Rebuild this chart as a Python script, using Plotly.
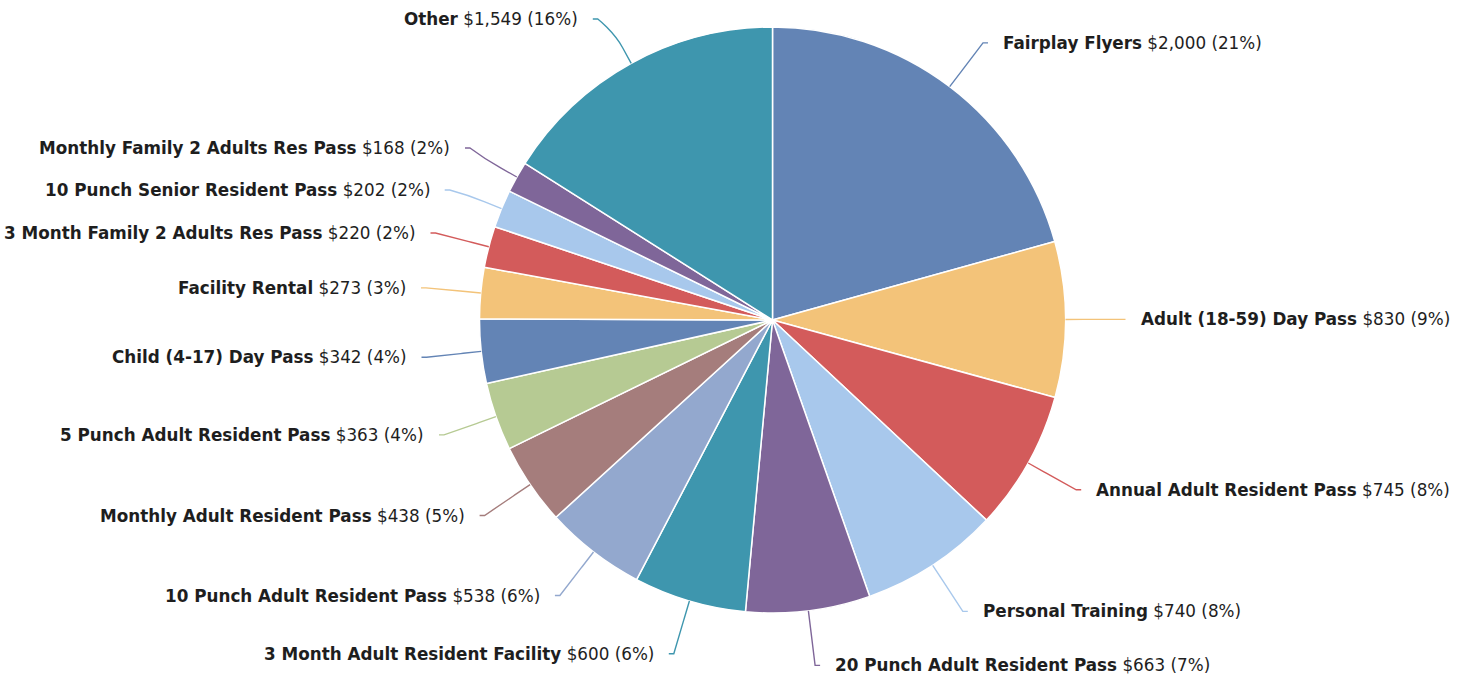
import math
import plotly.graph_objects as go

# ---- data ----
categories = [
    "Fairplay Flyers", "Adult (18-59) Day Pass", "Annual Adult Resident Pass",
    "Personal Training", "20 Punch Adult Resident Pass", "3 Month Adult Resident Facility",
    "10 Punch Adult Resident Pass", "Monthly Adult Resident Pass", "5 Punch Adult Resident Pass",
    "Child (4-17) Day Pass", "Facility Rental", "3 Month Family 2 Adults Res Pass",
    "10 Punch Senior Resident Pass", "Monthly Family 2 Adults Res Pass", "Other",
]
values = [2000, 830, 745, 740, 663, 600, 538, 438, 363, 342, 273, 220, 202, 168, 1549]
palette = ["#6384B5", "#F3C379", "#D35B5B", "#A8C8EC", "#7F6699",
           "#3E96AE", "#93A8CE", "#A57D7C", "#B6CA93"]

# ---- layout geometry (pixels) ----
W, H = 1472, 677
cx, cy, r = 772.5, 320.0, 293.0
label_r = 348.0
conn_off = 18.0
text_gap = 18.0
min_gap = 42.0
top_limit = 19.0

colors = [palette[i % len(palette)] for i in range(len(values))]
total = sum(values)

# label geometry from slice angles
items = []
cum = 0.0
for i, v in enumerate(values):
    mid = (cum + v / 2) / total * 2 * math.pi
    cum += v
    s, c = math.sin(mid), math.cos(mid)
    items.append(dict(i=i, s=s, c=c, right=s >= 0, y=max(cy - label_r * c, top_limit)))

for side in (True, False):
    grp = sorted([it for it in items if it["right"] == side], key=lambda d: d["y"])
    for k in range(1, len(grp)):
        if grp[k]["y"] - grp[k - 1]["y"] < min_gap:
            over = min_gap - (grp[k]["y"] - grp[k - 1]["y"])
            grp[k - 1]["y"] -= over / 2
            grp[k]["y"] += over / 2

shapes, annotations = [], []
for it in items:
    i = it["i"]
    s, c = it["s"], it["c"]
    y = it["y"]
    dy = y - cy
    dx = math.sqrt(max(label_r ** 2 - dy ** 2, 0))
    sign = 1 if it["right"] else -1
    x = cx + sign * dx
    ex, ey = cx + r * s, cy - r * c
    bx, by = cx + (r + conn_off) * s, cy - (r + conn_off) * c
    c2x, c2y = 2 * bx - ex, 2 * by - ey
    path = (f"M {x + sign * 5:.1f} {y:.1f} L {x:.1f} {y:.1f} "
            f"C {x:.1f} {y:.1f} {c2x:.1f} {c2y:.1f} {bx:.1f} {by:.1f} L {ex:.1f} {ey:.1f}")
    shapes.append(dict(type="path", xref="x", yref="y", path=path,
                       line=dict(color=colors[i], width=1.4), layer="above"))
    pct = round(values[i] / total * 100)
    annotations.append(dict(
        x=x + sign * text_gap, y=y, xref="x", yref="y",
        xanchor="left" if it["right"] else "right", yanchor="middle",
        text=f"<b>{categories[i]}</b> ${values[i]:,} ({pct}%)",
        showarrow=False, font=dict(family="DejaVu Sans", size=16.8, color="#1e1e1e"),
    ))

fig = go.Figure()
fig.add_trace(go.Scatter(x=[], y=[], hoverinfo="skip", showlegend=False))
fig.add_trace(go.Pie(
    labels=categories, values=values, sort=False, direction="clockwise", rotation=0,
    marker=dict(colors=colors, line=dict(color="white", width=1.5)),
    textinfo="none", hoverinfo="label+value+percent", showlegend=False,
    domain=dict(x=[(cx - r) / W, (cx + r) / W], y=[1 - (cy + r) / H, 1 - (cy - r) / H]),
))
fig.update_layout(
    width=W, height=H, margin=dict(l=0, r=0, t=0, b=0),
    paper_bgcolor="white", plot_bgcolor="white",
    xaxis=dict(range=[0, W], visible=False, domain=[0, 1], fixedrange=True),
    yaxis=dict(range=[H, 0], visible=False, domain=[0, 1], fixedrange=True),
    shapes=shapes, annotations=annotations,
)
fig.write_html("out.html", config={"displayModeBar": False},
               post_script="document.body.style.margin='0';document.body.style.overflow='hidden';")
